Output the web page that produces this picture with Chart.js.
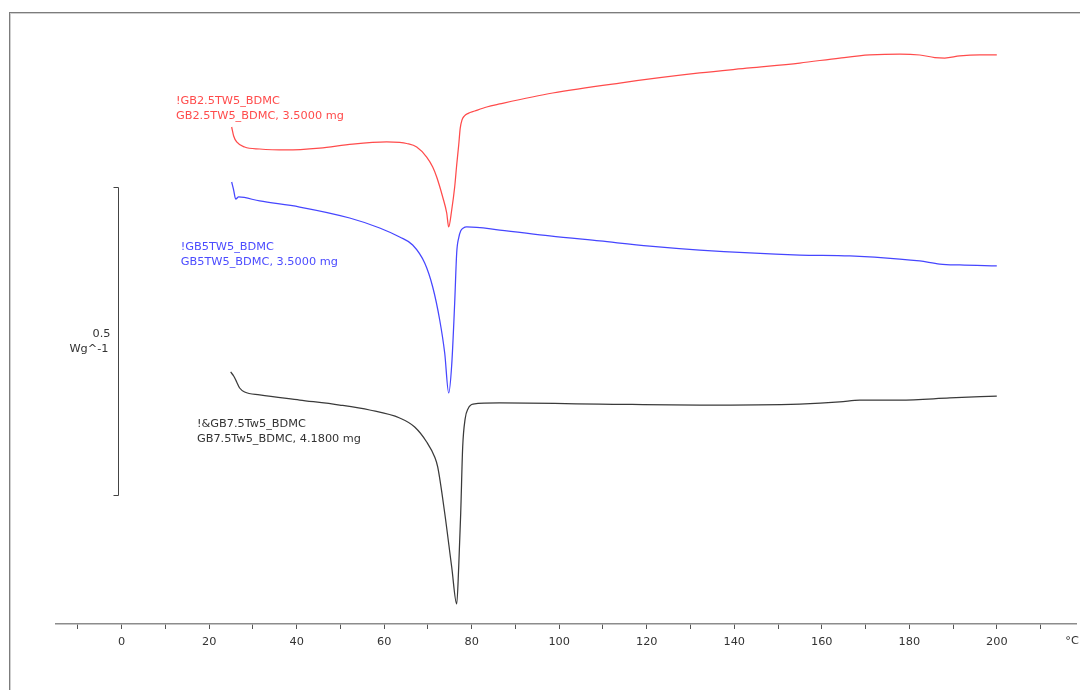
<!DOCTYPE html>
<html>
<head>
<meta charset="utf-8">
<script src="https://cdn.jsdelivr.net/npm/chart.js"></script>
<style>
  html, body { margin: 0; padding: 0; background: #fff; }
  #wrap { position: relative; width: 1080px; height: 690px; overflow: hidden; }
  #frame {
    position: absolute; left: 9px; top: 12px; right: -2px; bottom: -2px;
    border-top: 1px solid #7c7c7c; border-left: 1px solid #7c7c7c;
    box-shadow: inset 1px 1px 0 #cfcfcf;
  }
  canvas { position: absolute; left: 0; top: 0; }
</style>
</head>
<body>
<div id="wrap">
  <div id="frame"></div>
  <canvas id="dsc" width="1080" height="690"></canvas>
</div>
<script>
// Temperature (°C) and heat flow (W/g, stacked as exported) for each run
const redT = [25.14, 25.6, 26.29, 28.11, 31.54, 37.71, 45.26, 52.8, 60.57, 63.54, 65.14, 67.43, 69.71, 71.09, 72.0, 73.37, 74.29, 74.74, 75.43, 76.11, 76.57, 77.03, 77.38, 77.77, 78.3, 79.2, 80.69, 83.43, 86.4, 98.51, 113.83, 132.11, 143.54, 154.97, 164.11, 170.97, 177.83, 182.4, 185.83, 188.11, 191.54, 196.11, 200];
const redV = [0.8068, 0.7922, 0.7825, 0.7744, 0.7711, 0.7695, 0.7727, 0.7792, 0.7825, 0.7817, 0.78, 0.7744, 0.7581, 0.7419, 0.7256, 0.6932, 0.6672, 0.6445, 0.6721, 0.7094, 0.7451, 0.7776, 0.8050, 0.8180, 0.8245, 0.8290, 0.8328, 0.8393, 0.8442, 0.862, 0.8782, 0.8945, 0.9026, 0.9107, 0.9188, 0.9237, 0.9253, 0.9237, 0.9196, 0.9188, 0.9221, 0.9237, 0.9237];

const blueT = [25.14, 25.6, 26.06, 26.74, 31.54, 40.69, 52.11, 58.97, 63.54, 66.51, 69.26, 71.09, 72.69, 73.83, 74.74, 75.43, 76.11, 76.57, 77.03, 77.5, 78.1, 78.86, 86.4, 97.83, 109.26, 120.69, 132.11, 143.54, 154.97, 166.4, 177.83, 182.4, 186.97, 191.54, 200];
const blueV = [0.7175, 0.7045, 0.6899, 0.6932, 0.6867, 0.6769, 0.6591, 0.6429, 0.6282, 0.6153, 0.586, 0.5471, 0.4935, 0.4399, 0.375, 0.4205, 0.5211, 0.6023, 0.6270, 0.6385, 0.6430, 0.6445, 0.6396, 0.6299, 0.6218, 0.6136, 0.6071, 0.6023, 0.599, 0.5974, 0.5925, 0.5893, 0.5844, 0.5828, 0.5812];

const blackT = [24.91, 25.6, 26.29, 26.97, 28.11, 31.54, 40.69, 49.83, 56.69, 63.54, 66.97, 69.71, 71.54, 72.23, 73.83, 75.43, 76.57, 77.03, 77.49, 77.94, 78.5, 79.2, 80.3, 86.4, 109.26, 132.11, 154.97, 164.11, 168.69, 177.83, 189.26, 200];
const blackV = [0.4091, 0.4026, 0.3929, 0.3831, 0.3766, 0.3718, 0.3636, 0.3555, 0.3474, 0.3344, 0.3198, 0.2955, 0.2711, 0.2549, 0.1802, 0.0925, 0.0325, 0.0925, 0.1802, 0.2873, 0.3330, 0.3500, 0.3571, 0.3588, 0.3571, 0.3555, 0.3571, 0.3604, 0.3636, 0.3636, 0.3669, 0.3701];

const xTicks = [-10, 0, 10, 20, 30, 40, 50, 60, 70, 80, 90, 100, 110, 120, 130, 140, 150, 160, 170, 180, 190, 200, 210];
const xLabelled = [0, 20, 40, 60, 80, 100, 120, 140, 160, 180, 200];

const runLabels = [
  { lines: ["!GB2.5TW5_BDMC", "GB2.5TW5_BDMC, 3.5000 mg"], color: "#ff4b4b", t: 12.4, v: 0.849 },
  { lines: ["!GB5TW5_BDMC", "GB5TW5_BDMC, 3.5000 mg"], color: "#4b4bff", t: 13.5, v: 0.6123 },
  { lines: ["!&GB7.5Tw5_BDMC", "GB7.5Tw5_BDMC, 4.1800 mg"], color: "#333333", t: 17.2, v: 0.3253 }
];

// 0.5 W/g scale bar
const scaleBar = { t: -0.9, from: 0.2094, to: 0.7094, label: ["0.5", "Wg^-1"] };

const FONT = '11.3px "DejaVu Sans", Verdana, sans-serif';

function pts(xs, ys) {
  return xs.map((x, i) => ({ x: x, y: ys[i] }));
}

const annotations = {
  id: "annotations",
  afterDraw(chart) {
    const ctx = chart.ctx;
    const xs = chart.scales.x, ys = chart.scales.y;
    ctx.save();
    ctx.font = FONT;
    ctx.textBaseline = "middle";

    runLabels.forEach(l => {
      ctx.fillStyle = l.color;
      ctx.textAlign = "left";
      const px = xs.getPixelForValue(l.t);
      const py = ys.getPixelForValue(l.v);
      l.lines.forEach((s, i) => ctx.fillText(s, px, py + i * 15));
    });

    // scale bar
    const bx = Math.round(xs.getPixelForValue(scaleBar.t)) + 0.5;
    const top = Math.round(ys.getPixelForValue(scaleBar.to)) + 0.5;
    const bot = Math.round(ys.getPixelForValue(scaleBar.from)) + 0.5;
    ctx.strokeStyle = "#444";
    ctx.lineWidth = 1;
    ctx.beginPath();
    ctx.moveTo(bx - 5, top); ctx.lineTo(bx, top); ctx.lineTo(bx, bot); ctx.lineTo(bx - 5, bot);
    ctx.stroke();
    ctx.fillStyle = "#333";
    ctx.textAlign = "right";
    const mid = (top + bot) / 2;
    ctx.fillText(scaleBar.label[0], bx - 8, mid - 7);
    ctx.fillText(scaleBar.label[1], bx - 10, mid + 8);

    // unit at the end of the axis
    ctx.textAlign = "center";
    ctx.fillText("°C", xs.getPixelForValue(217.2), 641);
    ctx.restore();
  }
};

new Chart(document.getElementById("dsc").getContext("2d"), {
  type: "line",
  data: {
    datasets: [
      { data: pts(redT, redV), borderColor: "#ff4b4b" },
      { data: pts(blueT, blueV), borderColor: "#4646ff" },
      { data: pts(blackT, blackV), borderColor: "#3a3a3a" }
    ]
  },
  options: {
    responsive: false,
    animation: false,
    parsing: false,
    layout: { padding: { left: 56, right: 4, top: 12, bottom: 0 } },
    elements: {
      point: { radius: 0 },
      line: { borderWidth: 1.25, cubicInterpolationMode: "monotone", fill: false }
    },
    plugins: { legend: { display: false }, tooltip: { enabled: false } },
    scales: {
      x: {
        type: "linear",
        min: -15,
        max: 218.1,
        afterBuildTicks: s => { s.ticks = xTicks.map(v => ({ value: v })); },
        afterFit: s => { s.height = 66; },
        border: { display: true, color: "#8c8c8c", width: 1.5 },
        grid: { drawOnChartArea: false, drawTicks: true, tickLength: 5, color: "#555" },
        ticks: {
          autoSkip: false,
          maxRotation: 0,
          padding: 6,
          color: "#333",
          font: { family: '"DejaVu Sans", Verdana, sans-serif', size: 11.3 },
          callback: v => (xLabelled.includes(v) ? String(v) : "")
        }
      },
      y: { display: false, min: 0, max: 0.9935 }
    }
  },
  plugins: [annotations]
});
</script>
</body>
</html>
